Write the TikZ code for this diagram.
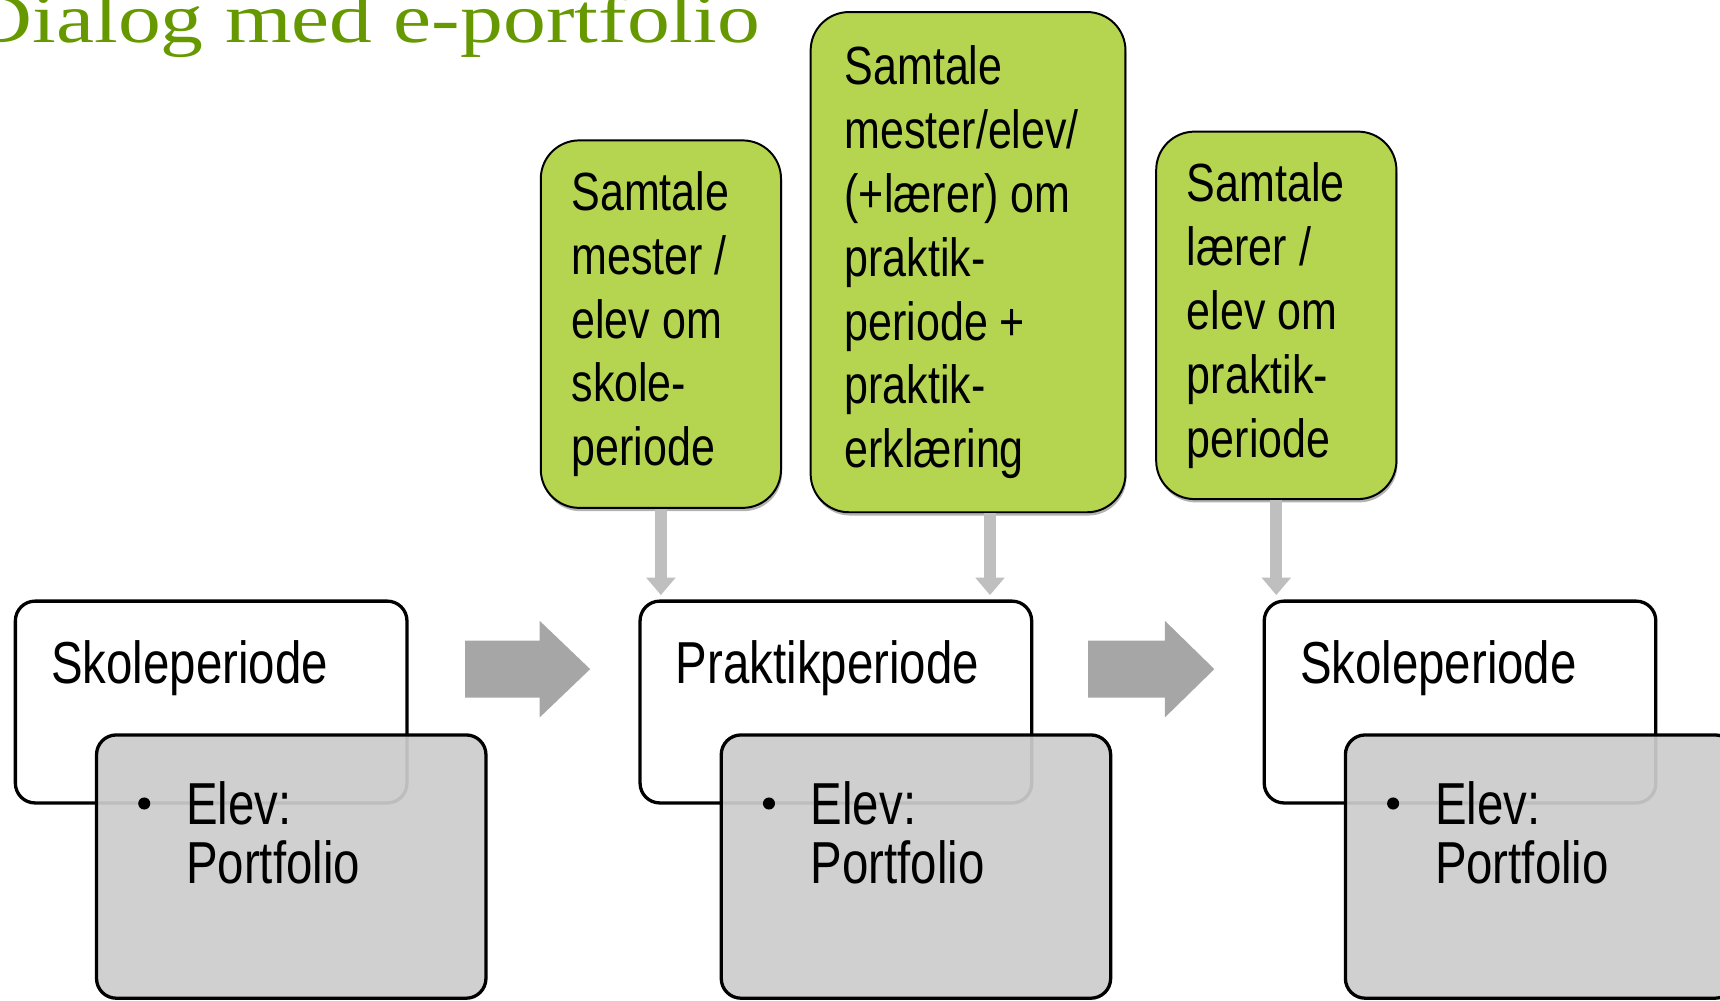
\documentclass[tikz,border=0pt]{standalone}
\usepackage{fontspec}
\setmainfont[FakeStretch=0.8]{Liberation Sans}
\newfontfamily\titlefont[FakeStretch=1.22]{Liberation Serif}
\usetikzlibrary{arrows.meta,shadows,positioning}
\definecolor{titlegreen}{RGB}{102,153,0}
\definecolor{talkgreen}{RGB}{181,212,79}
\definecolor{arrowgray}{RGB}{166,166,166}
\definecolor{boxgray}{RGB}{204,204,204}

\begin{document}
\begin{tikzpicture}[x=1pt,y=1pt,
    talkbox/.style={draw=black,line width=1.8pt,fill=talkgreen,rounded corners=35pt,
        align=flush left,inner xsep=28pt,inner ysep=0pt,font=\fontsize{49pt}{58.3pt}\selectfont,
        drop shadow={shadow xshift=1pt,shadow yshift=-3pt,opacity=0.6}},
    periodbox/.style={draw=black,line width=3pt,fill=white,rounded corners=18pt,
        minimum width=357pt,minimum height=184pt},
    portbox/.style={draw=black,line width=3pt,fill=boxgray,fill opacity=0.93,
        rounded corners=18pt,minimum width=355pt,minimum height=240pt},
    periodtext/.style={font=\fontsize{54pt}{54pt}\selectfont,inner sep=0pt,anchor=base west},
    bulletdot/.style={circle,fill=black,inner sep=0pt,minimum size=11pt},
    downarrow/.style={gray!50,line width=11pt,shorten >=4pt,-{Triangle[width=26pt,length=16pt]}},
    bigarrow/.style={fill=arrowgray}]
        % Fix page size
        \useasboundingbox (0,0) rectangle (1568,912);
        \clip (0,0) rectangle (1568,912);
        % Draw title
        \node[anchor=base west,inner sep=0pt,text=titlegreen,
            font=\titlefont\fontsize{64pt}{64pt}\selectfont] (title) at (-27,873) {Dialog med e-portfolio};
        % Draw talk boxes
        \node[talkbox,text width=163pt,minimum height=335pt] (g1) at (602.5,616.5) {Samtale\\ mester /\\ elev om\\ skole-\\ periode};
        \node[talkbox,inner xsep=31pt,text width=225pt,minimum height=456pt] (g2) at (882.5,673) {Samtale\\ mester/elev/\\ (+lærer) om\\ praktik-\\ periode +\\ praktik-\\ erklæring};
        \node[talkbox,text width=163pt,minimum height=335pt] (g3) at (1163.5,624.5) {Samtale\\ lærer /\\ elev om\\ praktik-\\ periode};
        % Draw first period
        \node[periodbox] (sk1) at (192.5,272) {};
        \node[periodtext] at ([xshift=34pt,yshift=-77pt]sk1.north west) {Skoleperiode};
        \node[portbox] (po1) at ([xshift=73pt,yshift=-150pt]sk1.center) {};
        \node[periodtext] (el1) at ([xshift=83pt,yshift=-83pt]po1.north west) {Elev:};
        \node[periodtext] at ([yshift=-54pt]el1.base west) {Portfolio};
        \node[bulletdot] at ([xshift=-38pt,yshift=19pt]el1.base west) {};
        % Draw second period
        \node[periodbox] (pr) at (762,272) {};
        \node[periodtext] at ([xshift=34pt,yshift=-77pt]pr.north west) {Praktikperiode};
        \node[portbox] (po2) at ([xshift=73pt,yshift=-150pt]pr.center) {};
        \node[periodtext] (el2) at ([xshift=83pt,yshift=-83pt]po2.north west) {Elev:};
        \node[periodtext] at ([yshift=-54pt]el2.base west) {Portfolio};
        \node[bulletdot] at ([xshift=-38pt,yshift=19pt]el2.base west) {};
        % Draw third period
        \node[periodbox] (sk3) at (1331,272) {};
        \node[periodtext] at ([xshift=34pt,yshift=-77pt]sk3.north west) {Skoleperiode};
        \node[portbox] (po3) at ([xshift=73pt,yshift=-150pt]sk3.center) {};
        \node[periodtext] (el3) at ([xshift=83pt,yshift=-83pt]po3.north west) {Elev:};
        \node[periodtext] at ([yshift=-54pt]el3.base west) {Portfolio};
        \node[bulletdot] at ([xshift=-38pt,yshift=19pt]el3.base west) {};
        % Draw big arrows between periods
        \fill[bigarrow] (424,328) -- (492,328) -- (492,346) -- (538,302) -- (492,258) -- (492,276) -- (424,276) -- cycle;
        \fill[bigarrow] (992,328) -- (1062,328) -- (1062,346) -- (1107,302) -- (1062,258) -- (1062,276) -- (992,276) -- cycle;
        % Draw arrows from talks to periods
        \coordinate (t2) at ([xshift=20pt]g2.south);
        \draw[downarrow] (g1.south) -- (g1.south |- pr.north);
        \draw[downarrow] (t2) -- (t2 |- pr.north);
        \draw[downarrow] (g3.south) -- (g3.south |- sk3.north);
    \end{tikzpicture}
\end{document}
